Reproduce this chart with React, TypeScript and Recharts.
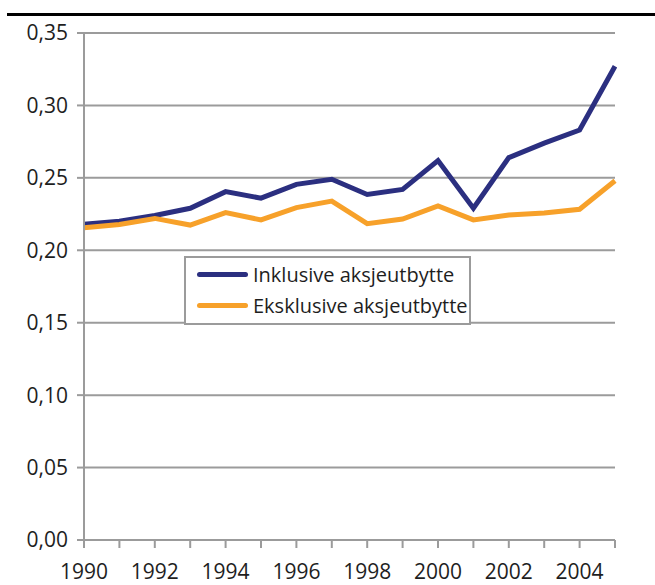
import { CartesianGrid, Line, LineChart, XAxis, YAxis } from "recharts";

const years = [
  1990, 1991, 1992, 1993, 1994, 1995, 1996, 1997, 1998, 1999, 2000, 2001, 2002,
  2003, 2004, 2005,
];
const inklusive = [
  0.218, 0.22, 0.224, 0.229, 0.2405, 0.236, 0.2455, 0.249, 0.2385, 0.242, 0.262,
  0.229, 0.264, 0.274, 0.283, 0.327,
];
const eksklusive = [
  0.2155, 0.2178, 0.222, 0.2174, 0.226, 0.221, 0.2295, 0.234, 0.2184, 0.2216,
  0.2307, 0.221, 0.2243, 0.2258, 0.2283, 0.248,
];
const yTicks = [0, 0.05, 0.1, 0.15, 0.2, 0.25, 0.3, 0.35];
const seriesNames = ["Inklusive aksjeutbytte", "Eksklusive aksjeutbytte"];

const NAVY = "#2b2f80";
const ORANGE = "#f7a12a";
const GRID = "#9b9b9b";
const TEXT = "#1e1e1e";
const FONT = "'Open Sans', sans-serif";

const data = years.map((year, i) => ({
  year,
  inkl: inklusive[i],
  eksk: eksklusive[i],
}));

function YearTick(props: any) {
  const { x, y, payload } = props;
  if (payload.value % 2 !== 0) return null;
  return (
    <text
      x={x}
      y={y}
      dy="0.71em"
      textAnchor="middle"
      fill={TEXT}
      fontSize={21}
      fontFamily={FONT}
    >
      {payload.value}
    </text>
  );
}

// legend drawn as a plain box so it does not eat into the plot area
function LegendBox() {
  const items = [
    { name: seriesNames[0], color: NAVY },
    { name: seriesNames[1], color: ORANGE },
  ];
  return (
    <div
      style={{
        position: "absolute",
        left: 184,
        top: 256,
        width: 283,
        height: 64,
        border: `2px solid ${GRID}`,
        background: "#fff",
        fontFamily: FONT,
        fontSize: 20,
        color: TEXT,
        paddingTop: 1,
      }}
    >
      {items.map((it) => (
        <div
          key={it.name}
          style={{ display: "flex", alignItems: "center", height: 31 }}
        >
          <span
            style={{
              display: "inline-block",
              width: 51,
              height: 5,
              borderRadius: 3,
              background: it.color,
              marginLeft: 11,
              marginRight: 5,
            }}
          />
          <span style={{ lineHeight: "31px" }}>{it.name}</span>
        </div>
      ))}
    </div>
  );
}

export default function App() {
  return (
    <div style={{ position: "relative", width: 655, height: 585, background: "#fff" }}>
      <style>{`body{margin:0}`}</style>
      <div
        style={{
          position: "absolute",
          left: 7,
          top: 13,
          width: 648,
          height: 3,
          background: "#000",
        }}
      />
      <LineChart
        width={655}
        height={585}
        data={data}
        margin={{ top: 33, right: 40, left: 0, bottom: 0 }}
      >
        <CartesianGrid vertical={false} stroke={GRID} strokeWidth={2} />
        <XAxis
          dataKey="year"
          type="number"
          domain={[1990, 2005]}
          ticks={years}
          interval={0}
          height={45}
          tick={<YearTick />}
          tickSize={8}
          tickMargin={16}
          axisLine={{ stroke: GRID, strokeWidth: 2 }}
          tickLine={{ stroke: GRID, strokeWidth: 2 }}
        />
        <YAxis
          domain={[0, 0.35]}
          ticks={yTicks}
          width={84}
          interval={0}
          tickFormatter={(v: number) => v.toFixed(2).replace(".", ",")}
          tick={{ fill: TEXT, fontSize: 21, fontFamily: FONT }}
          tickSize={7}
          tickMargin={9}
          axisLine={{ stroke: GRID, strokeWidth: 2 }}
          tickLine={{ stroke: GRID, strokeWidth: 2 }}
        />
        <Line
          dataKey="inkl"
          name={seriesNames[0]}
          stroke={NAVY}
          strokeWidth={5}
          dot={false}
          isAnimationActive={false}
        />
        <Line
          dataKey="eksk"
          name={seriesNames[1]}
          stroke={ORANGE}
          strokeWidth={5}
          dot={false}
          isAnimationActive={false}
        />
      </LineChart>
      <LegendBox />
    </div>
  );
}
